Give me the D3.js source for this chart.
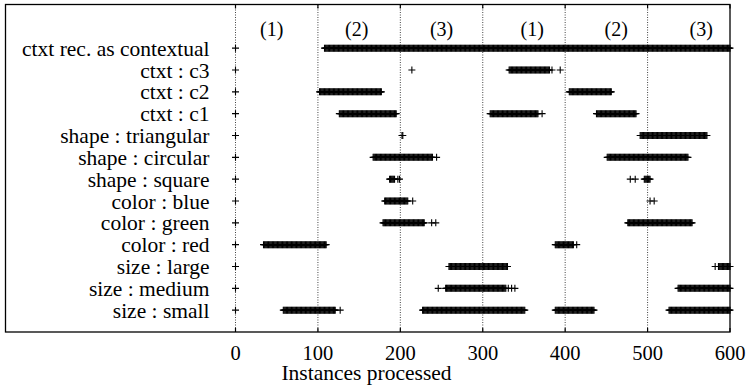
<!DOCTYPE html>
<html>
<head>
<meta charset="utf-8">
<script src="https://cdn.jsdelivr.net/npm/d3@7"></script>
<style>
  body { margin: 0; background: #fff; }
</style>
</head>
<body>
<div id="chart"></div>
<script>
// row labels, bottom to top
var rowLabels = ["size : small", "size : medium", "size : large",
  "color : red", "color : green", "color : blue",
  "shape : square", "shape : circular", "shape : triangular",
  "ctxt : c1", "ctxt : c2", "ctxt : c3", "ctxt rec. as contextual"];

// runs of instances [first, last] where each feature fired
var sizeSmall   = [[0, 0], [58, 121], [127, 127], [227, 351], [388, 435], [526, 600]];
var sizeMedium  = [[0, 0], [246, 246], [255, 328], [331, 331], [335, 335], [339, 339], [537, 600]];
var sizeLarge   = [[0, 0], [259, 330], [582, 582], [586, 600]];
var colorRed    = [[0, 0], [34, 110], [388, 410], [414, 414]];
var colorGreen  = [[0, 0], [179, 229], [238, 238], [243, 243], [476, 554]];
var colorBlue   = [[0, 0], [181, 209], [215, 215], [503, 503], [508, 508]];
var shapeSquare = [[0, 0], [187, 193], [197, 197], [199, 199], [479, 479], [485, 485], [496, 503]];
var shapeCirc   = [[0, 0], [167, 239], [244, 244], [451, 549]];
var shapeTri    = [[0, 0], [202, 203], [491, 572]];
var ctxtC1      = [[0, 0], [126, 195], [309, 367], [372, 372], [438, 486]];
var ctxtC2      = [[0, 0], [102, 177], [405, 456]];
var ctxtC3      = [[0, 0], [214, 214], [332, 381], [384, 384], [394, 394]];
var ctxtRec     = [[0, 0], [108, 600]];

var rowRuns = [sizeSmall, sizeMedium, sizeLarge, colorRed, colorGreen, colorBlue,
  shapeSquare, shapeCirc, shapeTri, ctxtC1, ctxtC2, ctxtC3, ctxtRec];

var xTicks = [0, 100, 200, 300, 400, 500, 600];
var gridLines = [0, 100, 200, 300, 400, 500];
var phaseLabels = ["(1)", "(2)", "(3)", "(1)", "(2)", "(3)"];
var phasePos = [44, 147, 250, 360, 462, 565];

var svgWidth = 746;
var svgHeight = 387;
var fontFam = "'Liberation Serif', 'Times New Roman', Times, 'DejaVu Serif', serif";

var box = { left: 5.5, right: 730, top: 4.5, bottom: 332 };

var svg = d3.select("#chart")
  .append("svg")
  .attr("width", svgWidth)
  .attr("height", svgHeight)
  .style("font-family", fontFam);

var x = d3.scaleLinear().domain([0, 600]).range([235.5, 730]);
var y = d3.scaleLinear().domain([0, 15]).range([box.bottom, box.top]);

// dotted grid
svg.selectAll(".grid")
  .data(gridLines)
  .enter()
  .append("line")
  .attr("x1", d => x(d)).attr("x2", d => x(d))
  .attr("y1", box.top).attr("y2", box.bottom)
  .attr("stroke", "#444")
  .attr("stroke-width", 1)
  .attr("stroke-dasharray", "1,1.5");

// ticks at bottom and top (inward)
var tickLen = 4;
svg.selectAll(".tickb")
  .data(xTicks)
  .enter()
  .append("line")
  .attr("x1", d => x(d)).attr("x2", d => x(d))
  .attr("y1", box.bottom).attr("y2", box.bottom - tickLen)
  .attr("stroke", "#000").attr("stroke-width", 1.2);
svg.selectAll(".tickt")
  .data(xTicks)
  .enter()
  .append("line")
  .attr("x1", d => x(d)).attr("x2", d => x(d))
  .attr("y1", box.top).attr("y2", box.top + tickLen)
  .attr("stroke", "#000").attr("stroke-width", 1.2);

// tick labels
svg.selectAll(".xlab")
  .data(xTicks)
  .enter()
  .append("text")
  .attr("x", d => x(d))
  .attr("y", 360)
  .attr("text-anchor", "middle")
  .attr("font-family", fontFam)
  .attr("font-size", "20.5px")
  .text(d => d);

svg.append("text")
  .attr("x", 366.5)
  .attr("y", 380)
  .attr("text-anchor", "middle")
  .attr("font-family", fontFam)
  .attr("font-size", "21.5px")
  .text("Instances processed");

// row labels
svg.selectAll(".ylab")
  .data(rowLabels)
  .enter()
  .append("text")
  .attr("x", 209.5)
  .attr("y", (d, i) => y(i + 1))
  .attr("dy", "0.35em")
  .attr("text-anchor", "end")
  .attr("font-family", fontFam)
  .attr("font-size", "21.5px")
  .text(d => d);

// phase labels
svg.selectAll(".phase")
  .data(phaseLabels)
  .enter()
  .append("text")
  .attr("x", (d, i) => x(phasePos[i]))
  .attr("y", y(13.9))
  .attr("dy", "0.35em")
  .attr("text-anchor", "middle")
  .attr("font-family", fontFam)
  .attr("font-size", "20px")
  .text(d => d);

// expand runs into points
var points = [];
rowRuns.forEach(function(runs, i) {
  runs.forEach(function(r) {
    d3.range(r[0], r[1] + 1).forEach(function(v) {
      points.push({ row: i + 1, v: v });
    });
  });
});

var h = 3.5;
svg.append("g")
  .selectAll("path")
  .data(points)
  .enter()
  .append("path")
  .attr("transform", d => `translate(${x(d.v)},${y(d.row)})`)
  .attr("d", `M${-h},0H${h}M0,${-h}V${h}`)
  .attr("stroke", "#000")
  .attr("stroke-width", 1.1)
  .attr("fill", "none");

// frame
svg.append("rect")
  .attr("x", box.left)
  .attr("y", box.top)
  .attr("width", box.right - box.left)
  .attr("height", box.bottom - box.top)
  .attr("fill", "none")
  .attr("stroke", "#000")
  .attr("stroke-width", 1.3);
</script>
</body>
</html>
